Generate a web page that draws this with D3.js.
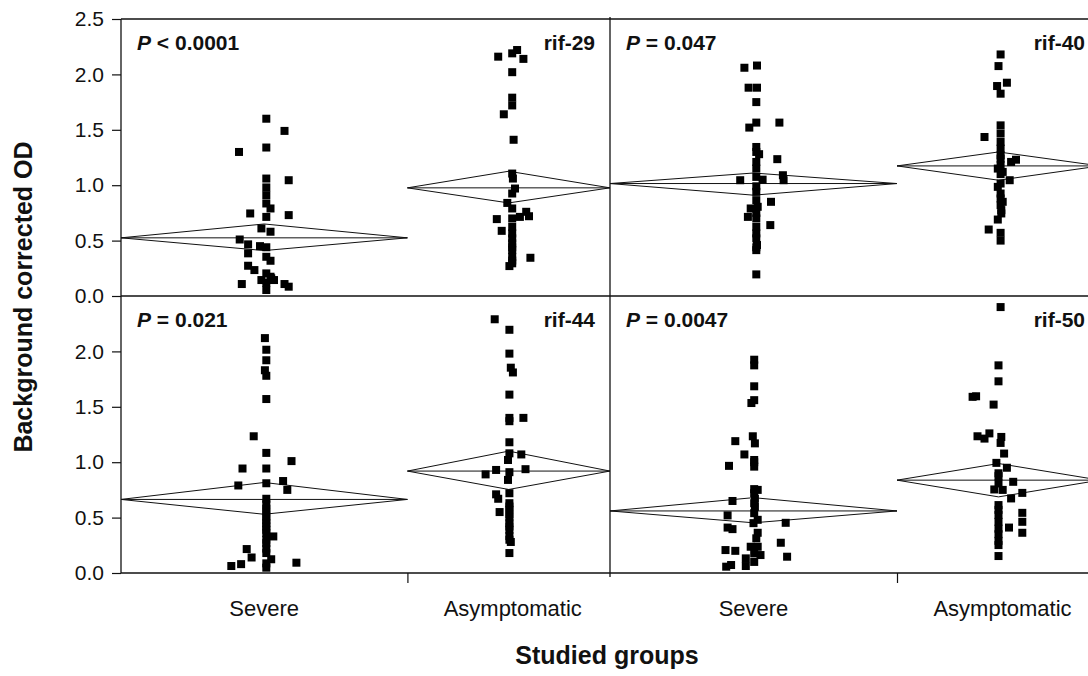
<!DOCTYPE html>
<html>
<head>
<meta charset="utf-8">
<script src="https://cdn.jsdelivr.net/npm/d3@7"></script>
<style>
  html, body { margin: 0; padding: 0; background: #fff; }
  svg { display: block; }
  text { font-family: "Liberation Sans", Arial, sans-serif; fill: #111; }
</style>
</head>
<body>
<svg id="chart" width="1088" height="676"></svg>
<script>
// ---------------- DATA ----------------
const panelNames = ["rif-29", "rif-40", "rif-44", "rif-50"];
const pTexts = ["< 0.0001", "= 0.047", "= 0.021", "= 0.0047"];
const groups = ["Severe", "Asymptomatic"];
const groupN = [41, 29];
const yTicksTop = [0, 0.5, 1.0, 1.5, 2.0, 2.5];
const yTicksBottom = [0, 0.5, 1.0, 1.5, 2.0];

// mean diamonds [Severe, Asymptomatic]
const means  = [[0.525, 0.976], [1.015, 1.174], [0.664, 0.920], [0.560, 0.838]];
const ciLow  = [[0.410, 0.840], [0.910, 1.045], [0.530, 0.754], [0.453, 0.687]];
const ciHigh = [[0.650, 1.126], [1.110, 1.300], [0.817, 1.100], [0.680, 0.988]];

// points: [OD value, horizontal jitter in marker widths]
const rif29Severe = [[1.60,0.3],[1.49,2.9],[1.30,-3.6],[1.34,0.3],[1.06,0.3],[1.045,3.5],[0.98,0.3],[0.91,0.3],[0.835,0.3],[0.79,0.9],[0.745,-2.0],[0.73,3.5],[0.714,0.3],[0.61,-0.4],[0.58,0.9],[0.51,-3.5],[0.466,-2.3],[0.45,-0.6],[0.44,0.3],[0.385,-2.3],[0.354,0.3],[0.318,0.9],[0.273,-2.3],[0.234,-1.4],[0.204,0.3],[0.174,0.9],[0.144,-0.4],[0.108,-3.2],[0.12,0.3],[0.144,1.4],[0.108,2.9],[0.084,3.5],[0.054,0.3],[0.16,1.0]];
const rif29Asym = [[2.16,-1.5],[2.19,0.5],[2.22,1.2],[2.14,2.1],[2.02,0.5],[1.79,0.5],[1.72,0.5],[1.64,-0.7],[1.41,0.7],[1.105,0.5],[1.06,0.6],[0.97,0.9],[0.925,0.5],[0.84,-0.2],[0.79,0.5],[0.76,2.5],[0.694,-1.7],[0.70,0.5],[0.714,1.6],[0.72,2.9],[0.624,0.5],[0.588,-1.0],[0.565,0.5],[0.52,0.5],[0.475,0.5],[0.44,0.5],[0.414,0.5],[0.354,0.5],[0.345,3.1],[0.32,0.5],[0.295,0.5],[0.27,0.1]];
const rif40Severe = [[2.06,-1.3],[2.08,0.5],[1.88,-0.7],[1.88,0.5],[1.75,0.4],[1.565,0.4],[1.52,-0.6],[1.565,3.7],[1.345,0.4],[1.30,0.4],[1.28,0.8],[1.21,0.4],[1.235,3.4],[1.15,0.4],[1.045,-1.9],[1.05,1.3],[1.09,4.2],[1.045,4.3],[1.075,0.4],[0.99,0.4],[0.94,0.4],[0.865,0.4],[0.85,2.5],[0.805,0.6],[0.79,-0.4],[0.75,0.4],[0.714,-0.8],[0.70,0.4],[0.64,2.4],[0.624,0.4],[0.565,0.4],[0.52,0.4],[0.46,0.5],[0.44,0.4],[0.414,0.4],[0.195,0.4]];
const rif40Asym = [[2.18,0.3],[2.075,0.0],[1.895,-0.2],[1.925,1.2],[1.826,0.3],[1.54,0.3],[1.466,0.3],[1.435,-2.0],[1.39,0.3],[1.33,0.3],[1.27,0.3],[1.24,0.3],[1.21,1.8],[1.23,2.5],[1.18,0.3],[1.15,-0.1],[1.12,0.6],[1.10,0.3],[1.045,1.6],[1.015,0.3],[0.985,-0.1],[0.925,0.3],[0.88,0.3],[0.85,0.6],[0.82,0.3],[0.775,0.4],[0.745,0.4],[0.69,-0.1],[0.60,-1.4],[0.57,0.3],[0.50,0.3]];
const rif44Severe = [[2.12,0.1],[2.015,0.3],[1.92,0.3],[1.83,0.1],[1.78,0.3],[1.57,0.3],[1.234,-1.5],[1.084,0.3],[0.943,-3.1],[0.943,0.3],[1.01,3.9],[0.79,-3.7],[0.81,0.3],[0.83,2.7],[0.75,3.3],[0.67,0.3],[0.62,0.3],[0.58,0.3],[0.55,0.3],[0.51,0.3],[0.48,0.3],[0.45,0.3],[0.42,0.3],[0.39,0.3],[0.36,0.3],[0.33,1.3],[0.30,0.3],[0.27,0.3],[0.22,0.3],[0.216,-2.5],[0.18,0.3],[0.14,-1.8],[0.124,1.0],[0.08,-3.3],[0.063,-4.7],[0.087,0.3],[0.048,0.3],[0.093,4.6]];
const rif44Asym = [[2.29,-2.0],[2.195,0.1],[1.98,0.1],[1.853,0.3],[1.81,0.6],[1.61,0.1],[1.40,0.1],[1.40,2.1],[1.37,0.1],[1.18,0.1],[1.08,0.1],[1.07,1.8],[1.02,-0.1],[0.93,-1.8],[0.89,-3.3],[0.91,0.1],[0.937,2.4],[0.84,-0.1],[0.72,0.1],[0.71,-1.8],[0.67,-1.5],[0.63,0.1],[0.60,0.1],[0.57,0.1],[0.55,-1.3],[0.53,0.1],[0.50,0.1],[0.45,0.1],[0.42,0.1],[0.39,0.1],[0.333,0.1],[0.30,0.1],[0.28,0.3],[0.18,0.1]];
const rif50Severe = [[1.925,0.1],[1.874,0.1],[1.685,0.1],[1.56,0.1],[1.534,-0.3],[1.19,-2.6],[1.234,-0.1],[1.17,0.2],[1.07,-1.3],[0.967,-3.5],[1.02,0.1],[1.00,0.1],[0.96,0.1],[0.757,0.1],[0.75,0.6],[0.72,0.1],[0.65,-3.0],[0.67,0.2],[0.63,0.1],[0.597,0.2],[0.52,-3.7],[0.54,0.1],[0.48,0.6],[0.45,0.0],[0.453,4.6],[0.41,-3.7],[0.396,-3.0],[0.363,0.6],[0.313,0.4],[0.273,3.9],[0.237,-0.4],[0.237,0.6],[0.207,-4.0],[0.20,-2.6],[0.177,0.1],[0.162,1.0],[0.147,4.8],[0.132,-1.1],[0.10,0.1],[0.057,-3.9],[0.072,-3.2],[0.063,-1.1]];
const rif50Asym = [[2.40,0.3],[1.874,0.0],[1.73,0.0],[1.595,-3.2],[1.59,-3.7],[1.52,-0.7],[1.234,-3.0],[1.213,-2.0],[1.26,-1.3],[1.228,0.4],[1.174,0.3],[1.078,0.8],[0.994,-0.3],[0.95,1.2],[0.90,0.0],[0.874,0.0],[0.823,2.1],[0.808,0.0],[0.754,-0.6],[0.75,0.6],[0.673,1.8],[0.723,3.4],[0.613,0.0],[0.57,0.0],[0.543,3.4],[0.523,0.0],[0.462,3.4],[0.41,1.5],[0.462,0.0],[0.40,0.0],[0.363,3.4],[0.35,0.0],[0.29,0.0],[0.252,0.0],[0.153,0.0]];

const panelPoints = [
  [rif29Severe, rif29Asym],
  [rif40Severe, rif40Asym],
  [rif44Severe, rif44Asym],
  [rif50Severe, rif50Asym]
];

// ---------------- LAYOUT ----------------
const left = 121, mid = 610, right = 1100;
const rowTop = [19, 296], rowBottom = [296, 573];
const MARK = 8;       // marker size
const JIT = 7;        // pixels per jitter unit
const ink = "#111";

const svg = d3.select("#chart");
const totalN = d3.sum(groupN);
const cum = [0, groupN[0], totalN];

panelNames.forEach((name, i) => {
  const row = Math.floor(i / 2), col = i % 2;
  const x0 = col === 0 ? left : mid;
  const x1 = col === 0 ? mid : right;
  const x = d3.scaleLinear().domain([0, totalN]).range([x0, x1]);
  const y = d3.scaleLinear().domain([0, 2.5]).range([rowBottom[row], rowTop[row]]);
  const g = svg.append("g");

  // diamonds
  groups.forEach((grp, k) => {
    const xa = x(cum[k]), xb = x(cum[k + 1]), xm = (xa + xb) / 2;
    const pts = [[xa, y(means[i][k])], [xm, y(ciHigh[i][k])], [xb, y(means[i][k])], [xm, y(ciLow[i][k])]];
    g.append("path")
      .attr("d", d3.line()(pts) + "Z")
      .attr("fill", "none").attr("stroke", ink).attr("stroke-width", 1);
    g.append("line")
      .attr("x1", xa).attr("x2", xb)
      .attr("y1", y(means[i][k])).attr("y2", y(means[i][k]))
      .attr("stroke", ink).attr("stroke-width", 1);
  });

  // points
  groups.forEach((grp, k) => {
    const xc = (x(cum[k]) + x(cum[k + 1])) / 2;
    g.selectAll(null).data(panelPoints[i][k]).enter().append("rect")
      .attr("x", d => xc + d[1] * JIT - MARK / 2)
      .attr("y", d => y(d[0]) - MARK / 2)
      .attr("width", MARK).attr("height", MARK)
      .attr("fill", "#000");
  });

  // labels
  const t = g.append("text")
    .attr("x", x0 + 16).attr("y", rowTop[row] + 31)
    .attr("font-size", 21).attr("font-weight", "bold");
  t.append("tspan").attr("font-style", "italic").text("P");
  t.append("tspan").text(" " + pTexts[i]);

  g.append("text")
    .attr("x", x1 - 15).attr("y", rowTop[row] + 31)
    .attr("text-anchor", "end")
    .attr("font-size", 21).attr("font-weight", "bold")
    .text(name);

  // bottom axis ticks and categories
  if (row === 1) {
    const ax = d3.axisBottom(x).tickValues([groupN[0]]).tickFormat("").tickSize(10).tickSizeOuter(0);
    const axg = svg.append("g").attr("transform", `translate(0,${rowBottom[1]})`).call(ax);
    axg.select(".domain").remove();
    axg.selectAll("line").attr("stroke", ink).attr("stroke-width", 1.2);
    groups.forEach((grp, k) => {
      svg.append("text")
        .attr("x", (x(cum[k]) + x(cum[k + 1])) / 2 + (k === 1 ? 4 : 0))
        .attr("y", 616)
        .attr("text-anchor", "middle")
        .attr("font-size", 22)
        .text(grp);
    });
  }

  // left axis
  if (col === 0) {
    const ay = d3.axisLeft(y)
      .tickValues(row === 0 ? yTicksTop : yTicksBottom)
      .tickFormat(d3.format(".1f"))
      .tickSize(9).tickPadding(8).tickSizeOuter(0);
    const ag = svg.append("g").attr("transform", `translate(${left},0)`).call(ay);
    ag.select(".domain").remove();
    ag.selectAll("line").attr("stroke", ink).attr("stroke-width", 1.2);
    ag.selectAll("text")
      .attr("font-size", 21)
      .attr("font-family", "Liberation Sans, Arial, sans-serif")
      .attr("fill", ink);
  }
});

// frame lines
const frame = svg.append("g").attr("stroke", ink).attr("stroke-width", 1.3).attr("fill", "none");
frame.append("line").attr("x1", left).attr("x2", right).attr("y1", rowTop[0]).attr("y2", rowTop[0]);
frame.append("line").attr("x1", left).attr("x2", right).attr("y1", rowBottom[0]).attr("y2", rowBottom[0]);
frame.append("line").attr("x1", left).attr("x2", right).attr("y1", rowBottom[1]).attr("y2", rowBottom[1]);
frame.append("line").attr("x1", left).attr("x2", left).attr("y1", rowTop[0]).attr("y2", rowBottom[1]);
frame.append("line").attr("x1", mid).attr("x2", mid).attr("y1", rowTop[0] - 2).attr("y2", rowBottom[1] + 4);
frame.append("line").attr("x1", right).attr("x2", right).attr("y1", rowTop[0]).attr("y2", rowBottom[1]);

// axis titles
svg.append("text")
  .attr("transform", "translate(32,297) rotate(-90)")
  .attr("text-anchor", "middle")
  .attr("font-size", 25).attr("font-weight", "bold")
  .text("Background corrected OD");

svg.append("text")
  .attr("x", 607).attr("y", 664)
  .attr("text-anchor", "middle")
  .attr("font-size", 25).attr("font-weight", "bold")
  .text("Studied groups");
</script>
</body>
</html>
